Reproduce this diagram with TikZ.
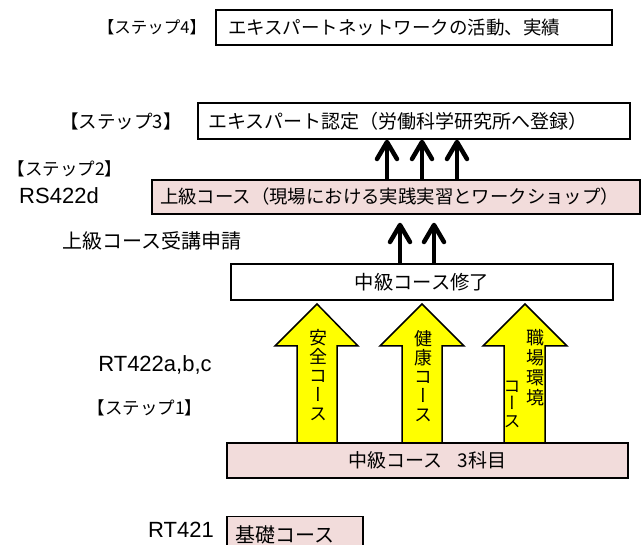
\documentclass[tikz,border=0pt]{standalone}
\usepackage{fontspec}
\setmainfont{Liberation Sans}
\newfontfamily\jp{Noto Sans CJK JP}
\newfontfamily\jpv[RawFeature=+vert]{Noto Sans CJK JP}
\usetikzlibrary{arrows.meta,calc}
\definecolor{pinkfill}{HTML}{F2DCDB}
\definecolor{yel}{HTML}{FFFF00}
\begin{document}
\begin{tikzpicture}[x=1pt,y=-1pt,
  box/.style={draw=black,line width=1.5pt,inner sep=0pt,font=\jp\fontsize{18.5}{20}\selectfont},
  lbox/.style={box,align=left},
  pinkbox/.style={fill=pinkfill},
  lab/.style={inner sep=0pt},
  latin/.style={inner sep=0pt,font=\fontsize{22}{24}\selectfont},
  blk/.style={line width=4.5pt,-{Straight Barb[length=17pt,width=20pt,round]}},
  yarrow/.style={draw=black,fill=yel,line width=1.5pt,line join=miter},
  vtext/.style={inner sep=0pt,align=center,font=\jpv\fontsize{18}{19}\selectfont}
]
\useasboundingbox (0,0) rectangle (641,545);
\clip (0,0) rectangle (641,545);
\fill[white] (0,0) rectangle (641,545);

% Step 4
\node[lab,font=\jp\fontsize{16.5}{17}\selectfont] (l4) at (152,27) {【ステップ4】};
\node[lbox,text width=372pt,inner xsep=12pt,minimum height=35pt] (s4) at (414,27.5) {エキスパートネットワークの活動、実績};

% Step 3
\node[lab,font=\jp\fontsize{18.5}{19}\selectfont] (l3) at (121,121) {【ステップ3】};
\node[lbox,text width=412pt,inner xsep=10pt,minimum height=36pt,font=\jp\fontsize{19}{20}\selectfont] (s3) at (414,121) {エキスパート認定（労働科学研究所へ登録）};

% Step 2
\node[lab,font=\jp\fontsize{17.5}{18}\selectfont] (l2) at (65,169) {【ステップ2】};
\node[latin] (rs) at (59,196) {RS422d};
\node[lbox,pinkbox,text width=472pt,inner xsep=8pt,minimum height=34pt,font=\jp\fontsize{18.4}{20}\selectfont] (s2) at (396,197) {上級コース（現場における実践実習とワークショップ）};

\coordinate (xa) at (387,0);
\coordinate (xb) at (422,0);
\coordinate (xc) at (457,0);
\draw[blk] (s2.north -| xa) -- (s3.south -| xa);
\draw[blk] (s2.north -| xb) -- (s3.south -| xb);
\draw[blk] (s2.north -| xc) -- (s3.south -| xc);

\node[lab,font=\jp\fontsize{20}{21}\selectfont] (req) at (152,241) {上級コース受講申請};

% intermediate completed
\node[box,minimum width=382pt,minimum height=36pt,font=\jp\fontsize{19.3}{20}\selectfont] (m) at (422,282) {中級コース修了};
\coordinate (xd) at (400,0);
\coordinate (xe) at (434,0);
\draw[blk,shorten >=8pt] (m.north -| xd) -- (s2.south -| xd);
\draw[blk,shorten >=8pt] (m.north -| xe) -- (s2.south -| xe);

% yellow arrows
\draw[yarrow] (297,444) -- (297,346) -- (275,346) -- (317,304) -- (358,346) -- (337,346) -- (337,444) -- cycle;
\draw[yarrow] (402,444) -- (402,346) -- (380,346) -- (422,304) -- (464,346) -- (442,346) -- (442,444) -- cycle;
\draw[yarrow] (504,444) -- (504,346) -- (483,346) -- (525,304) -- (567,346) -- (545,346) -- (545,444) -- cycle;
\node[vtext] (t1) at (318,375) {安\\全\\コ\\ー\\ス};
\node[vtext] (t2) at (423,376) {健\\康\\コ\\ー\\ス};
\node[vtext,font=\jpv\fontsize{18}{20}\selectfont] (t3a) at (535,368) {職\\場\\環\\境};
\node[vtext,font=\jpv\fontsize{17}{17.5}\selectfont] (t3b) at (512,404) {コ\\ー\\ス};

% Step 1
\node[latin] (rt) at (155,365) {RT422a,b,c};
\node[lab,font=\jp\fontsize{17.5}{18}\selectfont] (l1) at (145,408) {【ステップ1】};
\node[box,pinkbox,minimum width=401pt,minimum height=35pt,font=\jp\fontsize{19}{20}\selectfont] (b1) at (427.5,460.5) {中級コース\hspace{15pt}3科目};

% basic
\node[latin] (rt1) at (181,530) {RT421};
\node[lbox,pinkbox,anchor=north west,text width=118pt,inner xsep=9pt,minimum height=37pt,font=\jp\fontsize{20}{21}\selectfont] (b0) at (226,516) {基礎コース};
\end{tikzpicture}
\end{document}
